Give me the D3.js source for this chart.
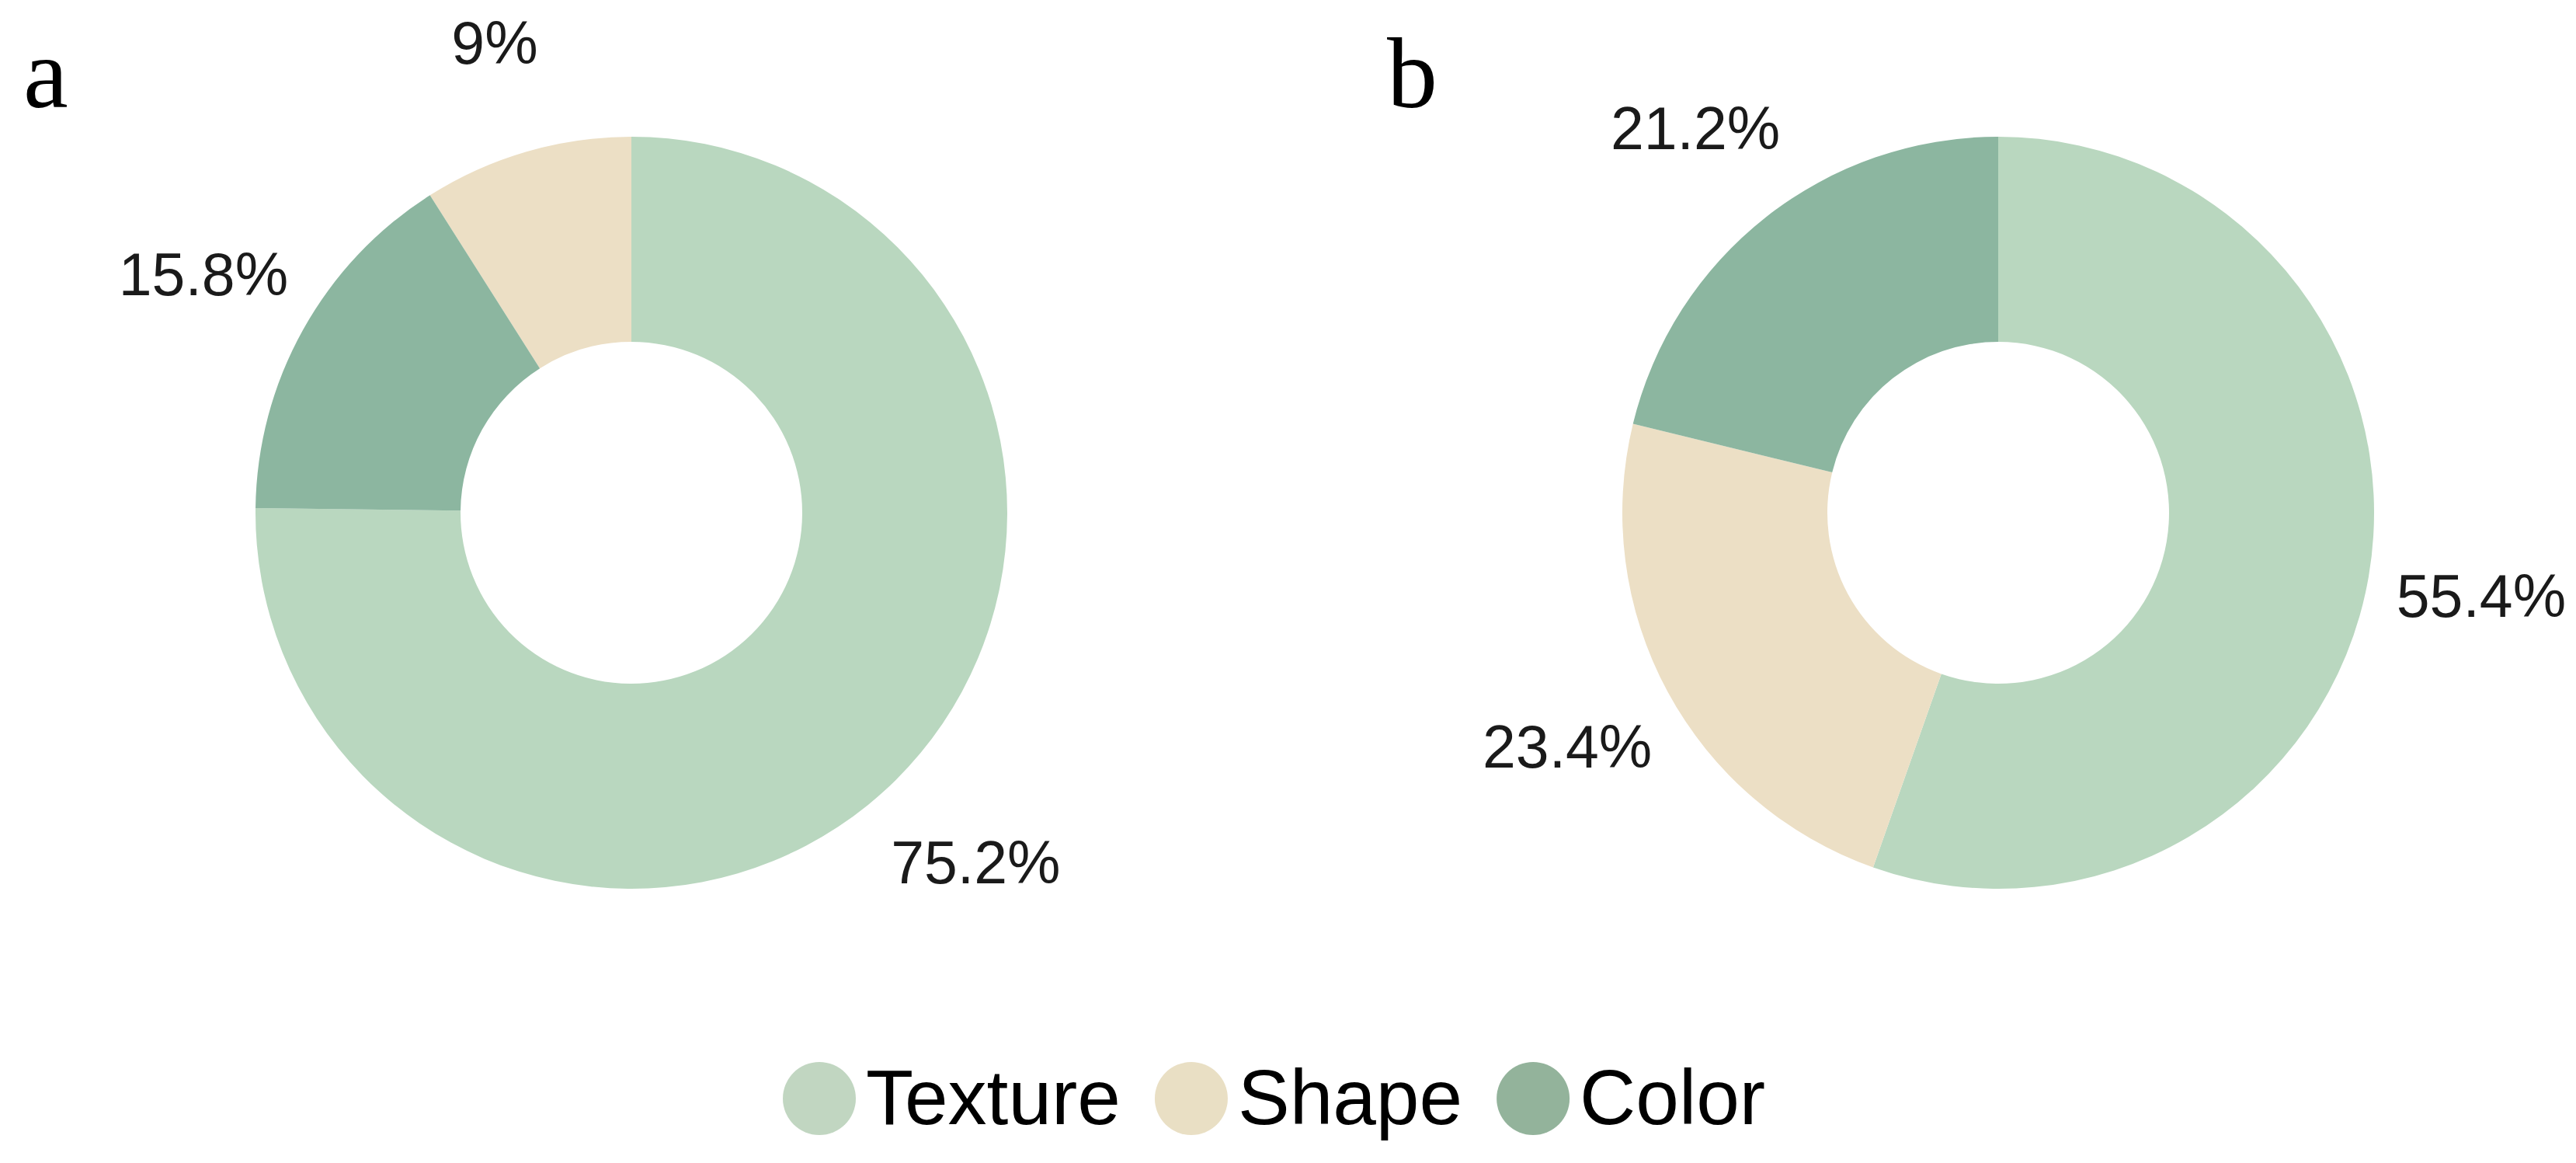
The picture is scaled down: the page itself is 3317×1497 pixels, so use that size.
<!DOCTYPE html>
<html>
<head>
<meta charset="utf-8">
<script src="https://cdn.jsdelivr.net/npm/d3@7"></script>
<style>
  body { margin: 0; background: #fff; }
  svg { display: block; }
  .pct { font-family: "Liberation Sans", Arial, sans-serif; font-size: 77px; fill: #1a1a1a; }
  .panel { font-family: "Liberation Serif", "Times New Roman", serif; font-size: 130px; fill: #000; }
  .legend text { font-family: "Liberation Sans", Arial, sans-serif; font-size: 100px; fill: #000; }
</style>
</head>
<body>
<div id="chart"></div>
<script>

var categories = ["Texture", "Shape", "Color"];
var panelLetters = ["a", "b"];
var valuesA = [75.2, 9, 15.8];
var valuesB = [55.4, 23.4, 21.2];
var sliceColors = ["#b9d7bf", "#ecdfc5", "#8cb6a0"];
var legendColors = ["#c1d6c1", "#e9dfc4", "#93b39b"];

var width = 3317,
    height = 1497;

var geom = {
  cy: 660,
  centers: [813, 2573],
  outer: 484,
  inner: 220,
  labelR: 631
};

var svg = d3.select("#chart").append("svg")
    .attr("width", width)
    .attr("height", height);

var color = d3.scaleOrdinal().domain(categories).range(sliceColors);

/* d3.pie sorts by value descending, which is the order the slices run clockwise */
var pie = d3.pie().value(function(d) { return d.value; });

var arc = d3.arc().innerRadius(geom.inner).outerRadius(geom.outer),
    labelArc = d3.arc().innerRadius(geom.labelR).outerRadius(geom.labelR);

function drawDonut(i, values) {
  var data = categories.map(function(c, k) { return {name: c, value: values[k]}; });

  var g = svg.append("g")
    .attr("transform", "translate(" + geom.centers[i] + "," + geom.cy + ")");

  g.selectAll("path")
      .data(pie(data))
    .enter().append("path")
      .attr("d", arc)
      .attr("fill", function(d) { return color(d.data.name); });

  g.selectAll("text.pct")
      .data(pie(data))
    .enter().append("text")
      .attr("class", "pct")
      .attr("transform", function(d) { return "translate(" + labelArc.centroid(d) + ")"; })
      .attr("text-anchor", "middle")
      .attr("dy", "0.36em")
      .text(function(d) { return d.data.value + "%"; });
}

drawDonut(0, valuesA);
drawDonut(1, valuesB);

svg.selectAll("text.panel")
    .data(panelLetters)
  .enter().append("text")
    .attr("class", "panel")
    .attr("x", function(d, i) { return i === 0 ? 30 : 1786; })
    .attr("y", 138)
    .text(function(d) { return d; });

/* legend, laid out left to right from measured text widths */
var legend = svg.append("g")
    .attr("class", "legend")
    .attr("transform", "translate(1008,1414)");

var lx = 0;
categories.forEach(function(c, k) {
  legend.append("circle")
    .attr("cx", lx + 47)
    .attr("cy", 0)
    .attr("r", 47)
    .attr("fill", legendColors[k]);
  var t = legend.append("text")
    .attr("x", lx + 107)
    .attr("y", 33)
    .text(c);
  lx += 107 + t.node().getComputedTextLength() + 44;
});

</script>
</body>
</html>
